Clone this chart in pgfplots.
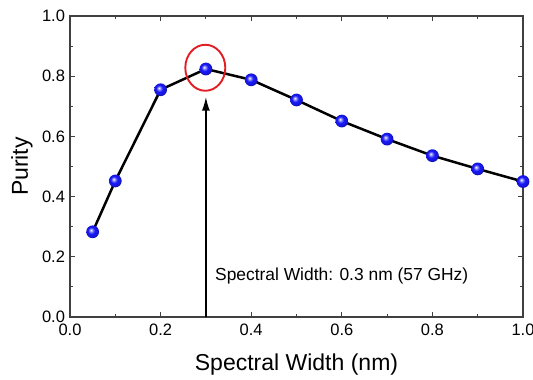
\documentclass[border=0pt]{standalone}
\usepackage{fontspec}
\setmainfont{Liberation Sans}
\usepackage{pgfplots}
\pgfplotsset{compat=1.18}
\usetikzlibrary{arrows.meta}
\definecolor{ballblue}{RGB}{25,25,250}
\definecolor{ringred}{RGB}{225,30,35}
\pgfdeclareradialshading{myball}{\pgfpoint{-7bp}{7bp}}{%
  color(0bp)=(white); color(5bp)=(ballblue!45!white); color(13bp)=(ballblue);
  color(22bp)=(ballblue!88!black); color(26bp)=(ballblue!70!black); color(50bp)=(ballblue!70!black)}
\pgfdeclareplotmark{myball}{%
  \pgfpathcircle{\pgfpointorigin}{\pgfplotmarksize}%
  \pgfshadepath{myball}{0}%
  \pgfusepath{discard}}
\begin{document}
\begin{tikzpicture}
\begin{axis}[
  scale only axis, width=453pt, height=301pt,
  xmin=0, xmax=1, ymin=0, ymax=1,
  xtick={0,0.2,...,1.0}, ytick={0,0.2,...,1.0},
  minor x tick num=1, minor y tick num=1,
  tick align=inside, major tick length=5pt, minor tick length=3pt,
  axis line style={black!75, line width=1.3pt},
  every tick/.style={black!75, line width=1.1pt},
  /pgf/number format/assume math mode=true,
  /pgf/number format/.cd, fixed, fixed zerofill, precision=1, /pgfplots/.cd,
  ticklabel style={font=\fontsize{16.5}{18}\selectfont},
  xticklabel style={yshift=-3pt},
  yticklabel style={xshift=-1.5pt},
  xlabel={Spectral Width (nm)}, ylabel={Purity},
  label style={font=\fontsize{23}{26}\selectfont},
  xlabel style={anchor=base, at={(axis description cs:0.5,-0.177)}},
  ylabel style={anchor=center, at={(axis description cs:-0.106,0.5)}},
  clip=false,
]
\addplot[black, line width=2.5pt, mark=myball, mark size=6.4pt] coordinates {
(0.05,0.283) (0.1,0.452) (0.2,0.755) (0.3,0.824) (0.4,0.788) (0.5,0.721)
(0.6,0.651) (0.7,0.591) (0.8,0.536) (0.9,0.492) (1.0,0.450)
};
\draw[ringred, line width=1.9pt] (axis cs:0.2987,0.828) ellipse [x radius=20pt, y radius=23pt];
\draw[black, line width=1.8pt, -{Latex[length=14pt,width=8pt]}] (axis cs:0.3,0) -- (axis cs:0.3,0.732);
\node[anchor=base west, inner sep=0pt, font=\fontsize{17.4}{20}\selectfont] at (axis cs:0.320,0.121) {Spectral Width: 0.3 nm (57 GHz)};
\end{axis}
\pgfresetboundingbox
\path ([shift={(-70pt,-63pt)}]current axis.south west) rectangle ([shift={(10pt,16pt)}]current axis.north east);
\end{tikzpicture}
\end{document}
